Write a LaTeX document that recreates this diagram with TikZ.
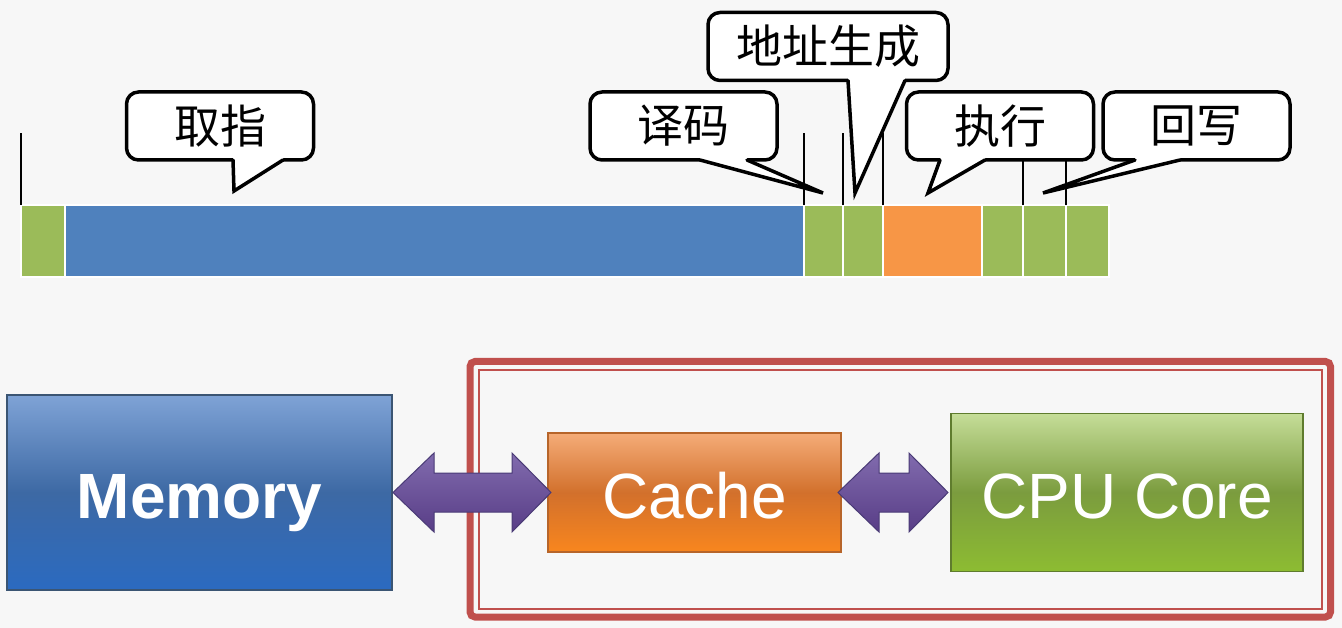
\documentclass[tikz,border=0pt]{standalone}
\usepackage{fontspec}
\setmainfont{Liberation Sans}
\newfontfamily\cjk{Noto Sans CJK SC}
\usetikzlibrary{calc}

\definecolor{pageGray}{HTML}{F7F7F7}
\definecolor{segGreen}{HTML}{9BBB59}
\definecolor{segBlue}{HTML}{4F81BD}
\definecolor{segOrange}{HTML}{F79646}
\definecolor{frameRed}{HTML}{C0504D}
\definecolor{busTop}{HTML}{816BAE}
\definecolor{busBot}{HTML}{583D86}
\definecolor{busEdge}{HTML}{4A3B76}
\definecolor{memTop}{HTML}{7FA3D6}
\definecolor{memMid}{HTML}{3D69A4}
\definecolor{memBot}{HTML}{2B6AC0}
\definecolor{memEdge}{HTML}{3B5573}
\definecolor{cacheTop}{HTML}{F5AC78}
\definecolor{cacheMid}{HTML}{D2702C}
\definecolor{cacheBot}{HTML}{F8861E}
\definecolor{cacheEdge}{HTML}{B7652A}
\definecolor{cpuTop}{HTML}{C5DD98}
\definecolor{cpuMid}{HTML}{7B9C3E}
\definecolor{cpuBot}{HTML}{8DBC32}
\definecolor{cpuEdge}{HTML}{5F7C2E}

% tail of a speech bubble: left base, right base, tip
\newcommand{\speechtail}[3]{%
  \fill[white] ($#1+(0,-2.5)$) -- ($#2+(0,-2.5)$) -- #2 -- #3 -- #1 -- cycle;
  \draw[tailline] #1 -- #3 -- #2;}

% fat double arrow between two boxes
\newcommand{\busarrow}[4]{%
  \draw[bus] ($(#1.east)+(#3,0)$) -- ++(41,-39.5) -- ++(0,20)
    -- ($(#2.west)+(#4-39,-19.5)$) -- ++(0,-20) -- ($(#2.west)+(#4,0)$)
    -- ++(-39,39.5) -- ++(0,-20) -- ($(#1.east)+(#3+41,19.5)$) -- ++(0,20) -- cycle;}

\begin{document}
\begin{tikzpicture}[x=1pt,y=-1pt,
  seg/.style={draw=white, line width=2pt, inner sep=0pt, outer sep=0pt, minimum height=72pt},
  tick/.style={line width=1.6pt},
  bubble/.style={draw=black, fill=white, line width=3.5pt, rounded corners=12pt,
    minimum width=187pt, minimum height=68pt, inner sep=0pt,
    font=\cjk\fontsize{46}{50}\selectfont},
  tailline/.style={line width=3.5pt, line cap=round, line join=miter},
  unit/.style={draw, line width=1.2pt, inner sep=0pt, outer sep=0pt, text=white,
    text height=51pt, text depth=0pt, font=\fontsize{64}{70}\selectfont},
  bus/.style={draw=busEdge, line width=1pt, top color=busTop, bottom color=busBot},
  frame/.style={draw=frameRed}]

\useasboundingbox (0,0) rectangle (1342,628);
\fill[pageGray] (0,0) rectangle (1342,628);

% pipeline bar
\node[seg, fill=segGreen, minimum width=44pt] (s0) at (43,241) {};
\node[seg, fill=segBlue, minimum width=739pt] (s1) at (434.5,241) {};
\node[seg, fill=segGreen, minimum width=39pt] (s2) at (823.5,241) {};
\node[seg, fill=segGreen, minimum width=40pt] (s3) at (863,241) {};
\node[seg, fill=segOrange, minimum width=99pt] (s4) at (932.5,241) {};
\node[seg, fill=segGreen, minimum width=41pt] (s5) at (1002.5,241) {};
\node[seg, fill=segGreen, minimum width=43pt] (s6) at (1044.5,241) {};
\node[seg, fill=segGreen, minimum width=43pt] (s7) at (1087.5,241) {};

\draw[tick] (s0.north west) -- ++(0,-72);
\draw[tick] (s2.north west) -- ++(0,-72);
\draw[tick] (s3.north west) -- ++(0,-72);
\draw[tick] (s4.north west) -- ++(0,-72);
\draw[tick] (s6.north west) -- ++(0,-72);
\draw[tick] (s7.north west) -- ++(0,-72);

% stage labels
\node[bubble] (fetch) at (220,126) {取指};
\speechtail{(233,160)}{(283,160)}{(234,191)}
\node[bubble] (decode) at (683.5,126) {译码};
\speechtail{(700,160)}{(747,160)}{(823,193)}
\node[bubble, minimum width=240pt] (addr) at (828,46.5) {地址生成};
\speechtail{(848,80.5)}{(905,80.5)}{(855,193)}
\node[bubble] (exec) at (1000,126) {执行};
\speechtail{(940,160)}{(985,160)}{(928,193)}
\node[bubble] (wb) at (1196.5,126) {回写};
\speechtail{(1135,160)}{(1180,160)}{(1043,193)}

% memory hierarchy
\draw[frame, line width=7pt, rounded corners=5pt] (470,361.5) rectangle (1330.5,617);
\draw[frame, line width=2pt] (479,370) rectangle (1322,608.5);

\node[unit, draw=memEdge, top color=memTop, bottom color=memBot, middle color=memMid,
  minimum width=385pt, minimum height=195pt, font=\bfseries\fontsize{64}{70}\selectfont]
  (mem) at (199.5,492.5) {Memory};
\node[unit, draw=cacheEdge, top color=cacheTop, bottom color=cacheBot, middle color=cacheMid,
  minimum width=293pt, minimum height=119pt] (cache) at (694.5,492.5) {Cache};
\node[unit, draw=cpuEdge, top color=cpuTop, bottom color=cpuBot, middle color=cpuMid,
  minimum width=352pt, minimum height=158pt] (cpu) at (1127,492.5) {CPU Core};

\busarrow{mem}{cache}{1}{3}
\busarrow{cache}{cpu}{-3}{-3}
\end{tikzpicture}
\end{document}
